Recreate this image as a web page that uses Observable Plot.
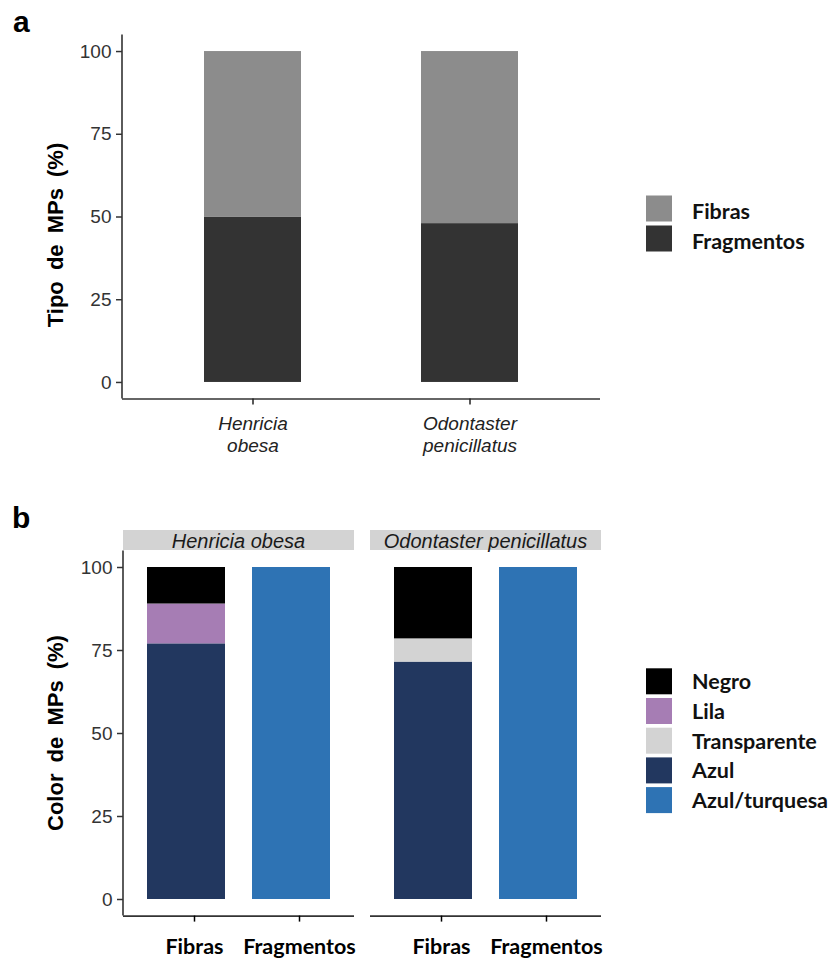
<!DOCTYPE html>
<html>
<head>
<meta charset="utf-8">
<script src="https://cdn.jsdelivr.net/npm/d3@7"></script>
<script src="https://cdn.jsdelivr.net/npm/@observablehq/plot@0.6"></script>
<style>
  body { margin: 0; background: #fff; }
  #root { position: relative; width: 832px; height: 958px; overflow: hidden; background: #fff; }
  #root svg { display: block; }
</style>
</head>
<body>
<div id="root"></div>
<script>
// ---------- data ----------
const speciesA = ["Henricia obesa", "Odontaster penicillatus"];
const tipoLabels = ["Fibras", "Fragmentos"];
const fibrasPct = [50, 52];
const fragmentosPct = [50, 48];
const tipoColors = ["#8c8c8c", "#333333"];

const colorLabels = ["Negro", "Lila", "Transparente", "Azul", "Azul/turquesa"];
const colorFills = ["#000000", "#a67db4", "#d3d3d3", "#22375f", "#2e73b4"];
const henriciaFibras = [11, 12, 0, 77, 0];
const henriciaFragmentos = [0, 0, 0, 0, 100];
const odontasterFibras = [21.5, 0, 7, 71.5, 0];
const odontasterFragmentos = [0, 0, 0, 0, 100];

const yTicks = [0, 25, 50, 75, 100];

// ---------- tables ----------
const tableA = [];
speciesA.forEach((s, i) => {
  tableA.push({especie: s, tipo: "Fragmentos", pct: fragmentosPct[i]});
  tableA.push({especie: s, tipo: "Fibras", pct: fibrasPct[i]});
});

const colorSeries = {
  "Henricia obesa": {Fibras: henriciaFibras, Fragmentos: henriciaFragmentos},
  "Odontaster penicillatus": {Fibras: odontasterFibras, Fragmentos: odontasterFragmentos}
};
const tableB = [];
speciesA.forEach(s => {
  tipoLabels.forEach(t => {
    const vals = colorSeries[s][t];
    for (let k = colorLabels.length - 1; k >= 0; k--) {
      if (vals[k] > 0) tableB.push({especie: s, tipo: t, color: colorLabels[k], pct: vals[k]});
    }
  });
});

const ARIAL = "'Liberation Sans', Arial, Helvetica, sans-serif";
const CAL = "Lato, 'Open Sans', sans-serif";
const AX = "#333333";

// ---------- panel a ----------
const chartA = Plot.plot({
  width: 832, height: 470,
  marginLeft: 122, marginRight: 232, marginTop: 34.5, marginBottom: 71.5,
  style: {fontFamily: ARIAL, background: "white", overflow: "visible"},
  x: {domain: speciesA, paddingInner: 0.554, paddingOuter: 0.377, label: null},
  y: {domain: [-5, 105], label: null},
  color: {domain: tipoLabels, range: tipoColors},
  marks: [
    Plot.barY(tableA, {x: "especie", y: "pct", fill: "tipo"}),
    Plot.ruleY([-5], {stroke: AX, strokeWidth: 1.6}),
    Plot.axisY({ticks: yTicks, tickSize: 6, tickPadding: 5, fontSize: 19, color: AX, strokeWidth: 1.5, label: null}),
    Plot.axisX({tickSize: 6, tickPadding: 9, fontSize: 19, fontStyle: "italic", lineHeight: 1.16,
      color: "#222", strokeWidth: 1.5, tickFormat: d => d.replace(" ", "\n"), label: null})
  ]
});

// ---------- panel b ----------
const chartB = Plot.plot({
  width: 832, height: 488,
  marginLeft: 123, marginRight: 230, marginTop: 80.4, marginBottom: 42.4,
  style: {fontFamily: ARIAL, background: "white", overflow: "visible"},
  fx: {domain: speciesA, paddingInner: 0.0646, paddingOuter: 0, axis: null, label: null},
  x: {domain: tipoLabels, paddingInner: 0.255, paddingOuter: 0.22, label: null},
  y: {domain: [-5, 105], label: null},
  color: {domain: colorLabels, range: colorFills},
  marks: [
    Plot.barY(tableB, {fx: "especie", x: "tipo", y: "pct", fill: "color"}),
    Plot.ruleY([-5], {stroke: AX, strokeWidth: 1.6}),
    Plot.axisY({ticks: yTicks, tickSize: 6, tickPadding: 5, fontSize: 19, color: AX, strokeWidth: 1.5, label: null}),
    Plot.axisX({tickSize: 6, tickPadding: 17, dx: 8, fontSize: 21.5, fontFamily: CAL, fontWeight: "bold",
      color: "#000", strokeWidth: 1.5, label: null})
  ]
});

// ---------- decorations from scales ----------
function decorate(chart, opts) {
  const svg = d3.select(chart);
  const y = chart.scale("y");
  svg.append("line")
    .attr("x1", opts.axisX).attr("x2", opts.axisX)
    .attr("y1", y.apply(105)).attr("y2", y.apply(-5))
    .attr("stroke", AX).attr("stroke-width", 1.6);
  svg.append("text").text(opts.tag)
    .attr("x", opts.tagX).attr("y", opts.tagY).attr("text-anchor", "start")
    .attr("font-family", ARIAL).attr("font-weight", "bold").attr("font-size", 30).attr("fill", "#000");
  svg.append("text").text(opts.title)
    .attr("transform", `translate(${opts.titleX},${opts.titleY}) rotate(-90)`)
    .attr("text-anchor", "middle")
    .attr("font-family", ARIAL).attr("font-weight", "bold").attr("font-size", 22)
    .attr("word-spacing", 5).attr("fill", "#000");
  const c = chart.scale("color");
  const g = svg.append("g").attr("text-anchor", "start");
  c.domain.forEach((d, i) => {
    const top = opts.legTop + i * opts.legStep;
    g.append("rect").attr("x", 646).attr("y", top).attr("width", 26).attr("height", 26)
      .attr("fill", c.range[i]);
    g.append("text").text(d).attr("x", 692).attr("y", top + opts.legBase)
      .attr("text-anchor", "start")
      .attr("font-family", CAL).attr("font-weight", "bold").attr("font-size", 21.5).attr("fill", "#111");
  });
}

decorate(chartA, {axisX: 122, tag: "a", tagX: 13, tagY: 32, title: "Tipo de MPs (%)",
  titleX: 63, titleY: 235, legTop: 195.5, legStep: 30, legBase: 23});
decorate(chartB, {axisX: 123, tag: "b", tagX: 12, tagY: 58, title: "Color de MPs (%)",
  titleX: 63, titleY: 263, legTop: 198.3, legStep: 29.7, legBase: 21});

// facet strips
(function strips() {
  const svg = d3.select(chartB);
  const fx = chartB.scale("fx");
  const bw = fx.bandwidth;
  speciesA.forEach(s => {
    const x0 = fx.apply(s);
    svg.append("rect").attr("x", x0).attr("y", 60).attr("width", bw).attr("height", 20)
      .attr("fill", "#d3d3d3");
    svg.append("text").text(s).attr("x", x0 + bw / 2).attr("y", 77.5)
      .attr("text-anchor", "middle").attr("font-family", ARIAL).attr("font-style", "italic")
      .attr("font-size", 20).attr("fill", "#1a1a1a");
  });
})();

const root = document.getElementById("root");
root.appendChild(chartA);
root.appendChild(chartB);
</script>
</body>
</html>
